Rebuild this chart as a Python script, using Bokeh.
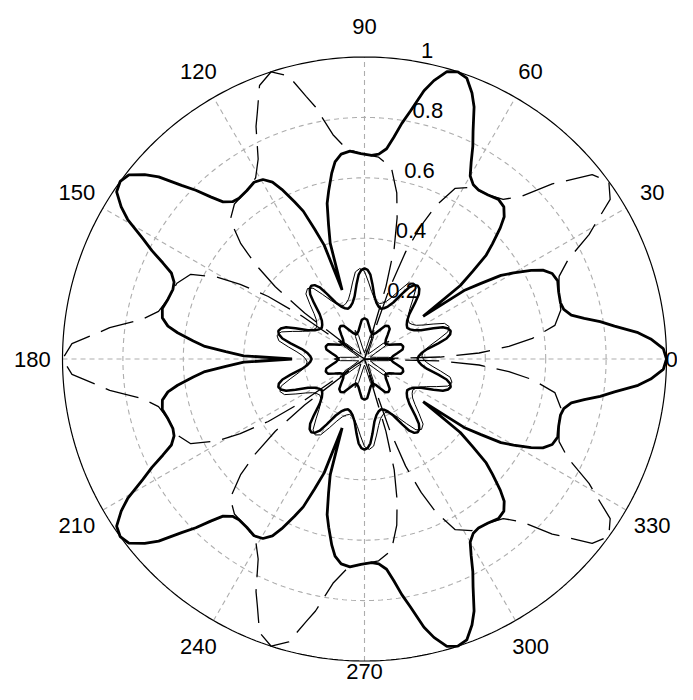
import numpy as np
from bokeh.plotting import figure
from bokeh.models import Range1d, ColumnDataSource
from bokeh.embed import file_html
from bokeh.resources import INLINE
from bokeh.core.properties import value

# ---------------- data ----------------
# Each curve is a lobed polar pattern; profiles give radius vs angular offset
# (degrees) from a lobe tip.

# big thick 5-lobe curve
OUTER_TIPS_DEG = [0, 72, 144, 216, 288]
OUTER_OFF_DEG = [0, 2, 4, 5.5, 7.5, 9, 10.5, 12, 14, 16, 19, 22, 24.5, 26.5, 28, 30, 31.5, 33, 34.5, 36]
OUTER_R = [1.0, 0.99, 0.95, 0.91, 0.835, 0.79, 0.74, 0.70, 0.68, 0.675, 0.68, 0.69, 0.683, 0.66, 0.625, 0.57, 0.53, 0.46, 0.40, 0.24]

# dashed 5-lobe curve
DASH_TIPS_DEG = [36, 108, 180, 252, 324]
DASH_OFF_DEG = [0, 3, 5.5, 7, 10, 13, 17, 22, 26, 29, 31, 33, 34.5, 36]
DASH_R = [1.0, 0.97, 0.89, 0.85, 0.75, 0.70, 0.68, 0.67, 0.64, 0.56, 0.48, 0.38, 0.25, 0.0]

# thick 10-point star
STAR_TIPS_DEG = [18, 54, 90, 126, 162, 198, 234, 270, 306, 342]
STAR_OFF_DEG = [0, 2, 4, 6, 9, 12, 15, 18]
STAR_R = [0.30, 0.295, 0.28, 0.25, 0.21, 0.19, 0.18, 0.175]

# thin star running next to the thick star
THIN_TIPS_DEG = [21, 57, 93, 129, 165, 201, 237, 273, 309, 345]
THIN_OFF_DEG = [0, 3, 6, 9, 12, 15, 18]
THIN_R = [0.30, 0.29, 0.255, 0.225, 0.205, 0.195, 0.19]

# small thick flower
FLOWER_TIPS_DEG = [18, 54, 90, 126, 162, 198, 234, 270, 306, 342]
FLOWER_OFF_DEG = [0, 4, 8, 12, 18]
FLOWER_R = [0.135, 0.13, 0.11, 0.095, 0.085]

# inner thin star
INNER_TIPS_DEG = [0, 36, 72, 108, 144, 180, 216, 252, 288, 324]
INNER_OFF_DEG = [0, 4, 8, 18]
INNER_R = [0.10, 0.08, 0.04, 0.02]

# axis ticks
ANGLE_TICKS = [0, 30, 60, 90, 120, 150, 180, 210, 240, 270, 300, 330]
ANGLE_LABELS = ["0", "30", "60", "90", "120", "150", "180", "210", "240", "270", "300", "330"]
R_TICKS = [0.2, 0.4, 0.6, 0.8, 1.0]
R_LABELS = ["0.2", "0.4", "0.6", "0.8", "1"]


def lobe_curve(tips, offs, radii):
    th, rr = [], []
    offs = list(offs)
    radii = list(radii)
    for t in tips:
        for d, r in zip(offs[::-1], radii[::-1]):
            th.append(t - d)
            rr.append(r)
        for d, r in zip(offs[1:], radii[1:]):
            th.append(t + d)
            rr.append(r)
    th.append(th[0])
    rr.append(rr[0])
    th = np.radians(th)
    rr = np.array(rr)
    return rr * np.cos(th), rr * np.sin(th)


# ---------------- figure ----------------
PX = 302.0          # pixels per unit radius
W, H = 677, 684
cx, cy = 364.0, 358.5   # centre inside the canvas (pixels)
x0 = -cx / PX
y1 = cy / PX
p = figure(width=W, height=H, output_backend="svg", toolbar_location=None,
           x_range=Range1d(x0, x0 + W / PX), y_range=Range1d(y1 - H / PX, y1),
           min_border=0, background_fill_color="white", border_fill_color="white")
p.axis.visible = False
p.grid.visible = False
p.outline_line_color = None

GRID = "#adadad"
tt = np.linspace(0, 2 * np.pi, 361)
# dashed grid circles
p.multi_line([list(r * np.cos(tt)) for r in R_TICKS[:-1]],
             [list(r * np.sin(tt)) for r in R_TICKS[:-1]],
             line_color=GRID, line_width=1.1, line_dash="5 4")
# spokes
for a in ANGLE_TICKS[:6]:
    ar = np.radians(a)
    p.line([-np.cos(ar), np.cos(ar)], [-np.sin(ar), np.sin(ar)],
           line_color=GRID, line_width=1.1, line_dash="5 4")
# outer circle
p.line(list(np.cos(tt)), list(np.sin(tt)), line_color="black", line_width=1.2)

# curves
x, y = lobe_curve(DASH_TIPS_DEG, DASH_OFF_DEG, DASH_R)
p.line(x, y, line_color="black", line_width=1.3, line_dash="34 12")
x, y = lobe_curve(INNER_TIPS_DEG, INNER_OFF_DEG, INNER_R)
p.line(x, y, line_color="black", line_width=1.0)
x, y = lobe_curve(THIN_TIPS_DEG, THIN_OFF_DEG, THIN_R)
p.line(x, y, line_color="black", line_width=1.0)
x, y = lobe_curve(STAR_TIPS_DEG, STAR_OFF_DEG, STAR_R)
p.line(x, y, line_color="black", line_width=2.5)
x, y = lobe_curve(FLOWER_TIPS_DEG, FLOWER_OFF_DEG, FLOWER_R)
p.line(x, y, line_color="black", line_width=2.5)
x, y = lobe_curve(OUTER_TIPS_DEG, OUTER_OFF_DEG, OUTER_R)
p.line(x, y, line_color="black", line_width=2.8)

# angle labels (the 0 and 270 labels pulled in so they stay on the canvas)
ang = np.radians(ANGLE_TICKS)
lx = 1.1 * np.cos(ang)
ly = 1.1 * np.sin(ang)
xo = [0.0] * len(ANGLE_TICKS)
yo = [0.0] * len(ANGLE_TICKS)
xo[0] = 671 - (cx + 1.1 * PX)
yo[9] = 671 - (cy + 1.1 * PX)
src = ColumnDataSource(dict(x=lx, y=ly, t=ANGLE_LABELS, xo=xo, yo=yo))
p.text(x="x", y="y", text="t", source=src, text_align="center", text_baseline="middle",
       x_offset="xo", y_offset="yo",
       text_font=value("Liberation Sans"), text_font_size="22px", text_color="black")

# radius labels at 82 degrees
a82 = np.radians(82)
rr = np.array(R_TICKS) + 0.01
src2 = ColumnDataSource(dict(x=rr * np.cos(a82), y=rr * np.sin(a82), t=R_LABELS))
p.text(x="x", y="y", text="t", source=src2, text_align="left", text_baseline="alphabetic",
       x_offset=14, y_offset=-6,
       text_font=value("Liberation Sans"), text_font_size="22px", text_color="black")

open("out.html", "w").write(file_html(p, INLINE))
